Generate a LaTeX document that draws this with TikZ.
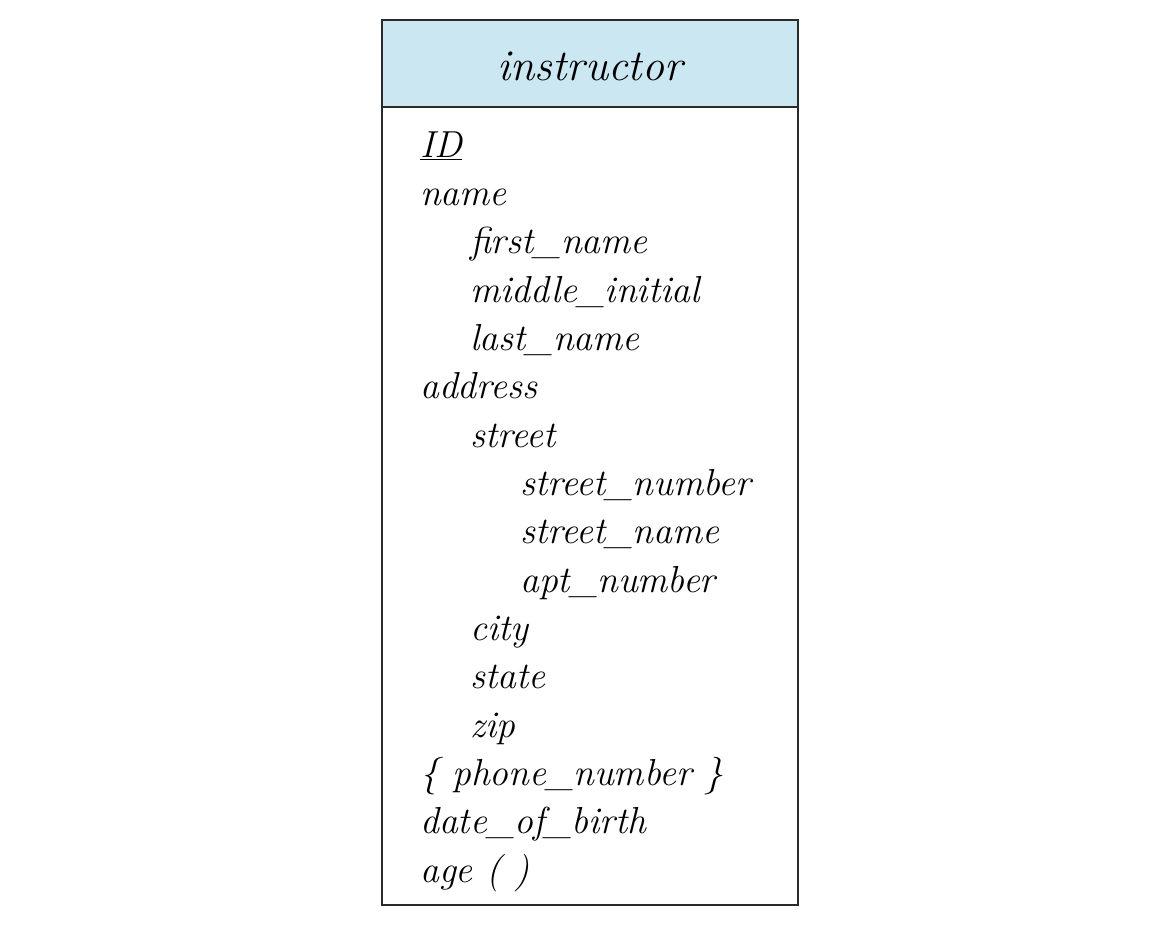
\documentclass[tikz,border=0pt]{standalone}
\usepackage{fontspec}
\definecolor{hdr}{HTML}{CBE7F2}
\definecolor{edge}{HTML}{2A2A2A}
\tikzset{
  attr/.style={anchor=base west, inner sep=0pt, font=\fontsize{28.2}{34}\selectfont\itshape},
  title/.style={anchor=base, inner sep=0pt, font=\fontsize{33}{38}\selectfont\itshape},
  boxline/.style={draw=edge, line width=1.1pt}
}
\begin{document}
\begin{tikzpicture}[x=0.75pt,y=-0.75pt]
\useasboundingbox (0,0) rectangle (1166,926);
\fill[white] (0,0) rectangle (1166,926);
\fill[hdr] (382,20) rectangle (798,107);
\draw[boxline] (382,20) rectangle (798,905);
\draw[boxline] (382,107) -- (798,107);
\node[title] (t) at (590,80) {instructor};
\node[attr] (a0) at (420,157) {\underline{ID}};
\node[attr] (a1) at (420,205.3) {name};
\node[attr] (a2) at (470,253.7) {first\_name};
\node[attr] (a3) at (470,302) {middle\_initial};
\node[attr] (a4) at (470,350.3) {last\_name};
\node[attr] (a5) at (420,398.7) {address};
\node[attr] (a6) at (470,447) {street};
\node[attr] (a7) at (520,495.3) {street\_number};
\node[attr] (a8) at (520,543.7) {street\_name};
\node[attr] (a9) at (520,592) {apt\_number};
\node[attr] (a10) at (470,640.3) {city};
\node[attr] (a11) at (470,688.7) {state};
\node[attr] (a12) at (470,737) {zip};
\node[attr] (a13) at (420,785.3) {\{ phone\_number \}};
\node[attr] (a14) at (420,833.7) {date\_of\_birth};
\node[attr] (a15) at (420,882) {age ( )};
\end{tikzpicture}
\end{document}
